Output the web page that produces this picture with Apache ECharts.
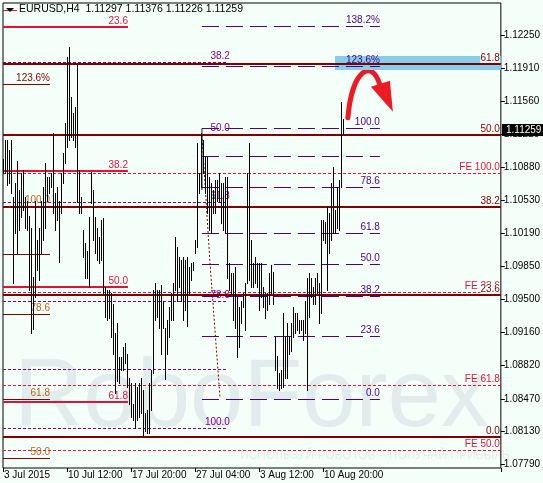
<!DOCTYPE html>
<html><head><meta charset="utf-8">
<script src="https://cdn.jsdelivr.net/npm/echarts@6/dist/echarts.min.js"></script>
<style>html,body{margin:0;padding:0;background:#f5fffa}#c{width:543px;height:483px}</style>
</head><body><div id="c"></div>
<script>
// ---------- data ----------
const symbolName = 'EURUSD,H4';
const headerValues = ['1.11297', '1.11376', '1.11226', '1.11259'];
const lastPrice = 1.11259;

const barHigh = [1.1096,1.1116,1.1116,1.1106,1.1116,1.1057,1.1071,1.1094,1.1064,1.1082,
1.1085,1.1057,1.1053,1.1037,1.1025,1.0974,1.1053,1.1012,1.1025,1.1053,
1.1067,1.1092,1.1077,1.1077,1.1082,1.1123,1.1061,1.1067,1.1053,1.1082,
1.1102,1.1134,1.1202,1.1213,1.1161,1.1144,1.1150,1.1196,1.1085,1.1057,
1.1022,1.1009,1.1001,1.1036,1.1083,1.1064,1.1036,1.1025,1.1015,1.1033,
1.1035,1.0963,1.0960,1.0960,1.0957,1.0946,1.0915,1.0926,1.0890,1.0890,
1.0901,1.0905,1.0894,1.0869,1.0863,1.0842,1.0863,1.0859,1.0863,1.0869,
1.0856,1.0832,1.0835,1.0863,1.0877,1.0960,1.0967,1.0960,1.0960,1.0965,
1.0949,1.0921,1.0929,1.0942,1.0957,1.0967,1.1015,1.1005,1.0994,1.0991,
1.0994,1.0991,1.0994,1.0984,1.0988,1.0989,1.1012,1.1113,1.1082,1.1123,
1.1116,1.1098,1.1098,1.1077,1.1071,1.1064,1.1074,1.1074,1.1082,1.1071,
1.1071,1.1077,1.1077,1.0988,1.0978,1.0978,1.0984,1.0953,1.0942,1.0949,
1.0957,1.0967,1.1082,1.1113,1.1012,1.0988,1.0994,1.0988,1.0988,1.0988,
1.0963,1.0957,1.0957,1.0978,1.0986,1.0979,1.0911,1.0892,1.0874,1.0877,
1.0936,1.0911,1.0926,1.0911,1.0926,1.0942,1.0936,1.0936,1.0929,1.0929,
1.0929,1.0949,1.0973,1.0978,1.0973,1.0963,1.0973,1.0978,1.0967,1.1033,
1.1033,1.1031,1.1046,1.1040,1.1071,1.1088,1.1043,1.1067,1.1074,1.1155,
1.11376];
const barLow = [1.1082,1.1082,1.1069,1.1071,1.1061,1.0967,1.1019,1.0999,1.1022,1.1036,
1.1043,1.1025,1.1022,1.0960,1.0915,1.0920,1.0953,1.0981,1.0970,1.0998,
1.1012,1.1025,1.1053,1.1061,1.1067,1.1040,1.1022,1.1033,1.0989,1.1040,
1.1071,1.1092,1.1109,1.1116,1.1119,1.1116,1.1109,1.1051,1.1040,1.1040,
1.0994,1.0973,1.0973,1.0963,1.1050,1.1012,1.0998,1.0991,1.0988,1.0991,
1.0957,1.0932,1.0929,1.0931,1.0911,1.0894,1.0853,1.0866,1.0863,1.0877,
1.0877,1.0884,1.0859,1.0842,1.0828,1.0825,1.0817,1.0825,1.0828,1.0832,
1.0807,1.0814,1.0811,1.0811,1.0835,1.0874,1.0929,1.0932,1.0921,1.0894,
1.0921,1.0868,1.0894,1.0911,1.0929,1.0929,1.0960,1.0949,1.0963,1.0949,
1.0929,1.0939,1.0923,1.0957,1.0970,1.0981,1.0998,1.1005,1.1061,1.1067,
1.1082,1.1061,1.1040,1.1022,1.1019,1.1040,1.1040,1.1053,1.1053,1.1030,
1.1022,1.1019,1.0973,1.0960,1.0957,1.0929,1.0921,1.0890,1.0901,1.0926,
1.0942,1.0918,1.0967,1.0970,1.0963,1.0963,1.0967,1.0963,1.0939,1.0953,
1.0942,1.0931,1.0939,1.0946,1.0957,1.0946,1.0877,1.0858,1.0856,1.0858,
1.0859,1.0869,1.0869,1.0894,1.0897,1.0911,1.0915,1.0918,1.0915,1.0918,
1.0908,1.0915,1.0856,1.0932,1.0953,1.0946,1.0946,1.0957,1.0926,1.0936,
1.1012,1.1009,1.0960,1.0998,1.1012,1.1019,1.1019,1.1025,1.1022,1.1067,
1.11226];

const slotCount = 249;
const xTickIndex = [0, 32, 64, 96, 128, 160];
const xTickLabels = ['3 Jul 2015', '10 Jul 12:00', '17 Jul 20:00', '27 Jul 04:00', '3 Aug 12:00', '10 Aug 20:00'];
const yTickValues = [1.1225, 1.1191, 1.1156, 1.1122, 1.1088, 1.1053, 1.1019, 1.0985, 1.0950, 1.0916, 1.0882, 1.0847, 1.0813, 1.0779];
const yMin = 1.07751, yMax = 1.12583;

const mainFibLabels = ['61.8', '50.0', '38.2', '23.6', '0.0'];
const mainFibPrices = [1.1195, 1.1121, 1.1046, 1.0955, 1.0807];
const redFibLabels = ['23.6', '38.2', '50.0', '61.8'];
const redFibPrices = [1.1233, 1.1084, 1.0963, 1.0844];
const feLabels = ['FE 100.0', 'FE 23.6', 'FE 61.8', 'FE 50.0'];
const fePrices = [1.1082, 1.0958, 1.0861, 1.0794];
const leftFibLabels = ['123.6%', '', '100.0', '78.6', '61.8', '50.0'];
const leftFibPrices = [1.1174, 1.0997, 1.1047, 1.0935, 1.0847, 1.0785];
const purpleFibLabels = ['38.2', '50.0', '61.8', '78.6', '', '100.0'];
const purpleFibPrices = [1.1197, 1.1122, 1.1052, 1.0949, 1.0878, 1.0817];
const indigoFibLabels = ['138.2%', '123.6%', '100.0', '', '78.6', '61.8', '50.0', '38.2', '23.6', '0.0'];
const indigoFibPrices = [1.1234, 1.1193, 1.1128, 1.1099, 1.1067, 1.1019, 1.0987, 1.0954, 1.0912, 1.0847];
const zonePrices = [1.1189, 1.1203];
const trendIdx = [99, 103, 108];
const trendPrice = [1.1121, 1.0989, 1.0849];
const baseIdx = [99, 99];
const basePrice = [1.1128, 1.1064];

// ---------- styles ----------
const FONTFAM = "'Liberation Sans', Arial, sans-serif";
const FONT = "10px " + FONTFAM;
const BG = '#f5fffa';
const MAROON = '#800000', CRIMSON = '#dc143c', PURPLE = '#800080', INDIGO = '#4b0082', ORANGE = '#b8651e';

function levelSeries(prices, labels, cfg) {
  return {
    type: 'custom', coordinateSystem: 'cartesian2d', silent: true, z: cfg.z || 3,
    data: prices.map(p => [0, p]),
    renderItem(params, api) {
      const cs = params.coordSys;
      const i = params.dataIndex;
      let y = api.coord([0, api.value(1)])[1];
      const x0 = cfg.from == null ? cs.x : api.coord([cfg.from, 0])[0];
      const x1 = cfg.to == null ? cs.x + cs.width : api.coord([cfg.to, 0])[0];
      const lw = cfg.width || 1;
      y = (lw % 2 === 1) ? Math.round(y) + 0.5 : Math.round(y);
      const children = [{
        type: 'line', shape: { x1: x0, y1: y, x2: x1, y2: y },
        style: { stroke: cfg.color, lineWidth: lw, lineDash: cfg.dash || null }
      }];
      const t = labels[i];
      if (t) {
        const lx = (cfg.labelTo == null ? x1 : api.coord([cfg.labelTo, 0])[0]) + (cfg.labelDx || 0);
        children.push({
          type: 'text', z2: 10,
          style: {
            text: t, x: lx, y: y - Math.ceil(lw / 2), align: 'right', verticalAlign: 'bottom',
            fill: (cfg.labelColors && cfg.labelColors[i]) || cfg.labelColor || cfg.color, font: FONT,
            backgroundColor: cfg.labelBg || null
          }
        });
      }
      return { type: 'group', children };
    }
  };
}

const chart = echarts.init(document.getElementById('c'), null, { renderer: 'canvas' });

const option = {
  backgroundColor: BG,
  animation: false,
  grid: { left: 3, right: 42, top: 3, bottom: 15, show: true, borderColor: '#000', borderWidth: 1, backgroundColor: 'transparent' },
  xAxis: {
    type: 'category', data: Array.from({ length: slotCount }, (_, i) => i), boundaryGap: true,
    axisLine: { show: false },
    axisTick: { show: true, interval: (i) => xTickIndex.includes(i), length: 4, lineStyle: { color: '#000' } },
    axisLabel: {
      interval: (i) => xTickIndex.includes(i),
      formatter: (v, i) => { const k = xTickIndex.indexOf(i); return k >= 0 ? xTickLabels[k] : ''; },
      align: 'left', margin: 2, fontSize: 10, color: '#000', fontFamily: FONTFAM, hideOverlap: false
    },
    splitLine: { show: false }
  },
  yAxis: {
    type: 'value', position: 'right', min: yMin, max: yMax, scale: true,
    axisLine: { show: false },
    axisTick: { show: true, customValues: yTickValues, length: 4, lineStyle: { color: '#000' } },
    axisLabel: { customValues: yTickValues, formatter: v => v.toFixed(5), margin: 3, fontSize: 10, color: '#000', fontFamily: FONTFAM },
    splitLine: { show: false }
  },
  series: [
    // blue zone
    {
      type: 'custom', silent: true, z: 1, data: [[0, zonePrices[0], zonePrices[1]]],
      renderItem(params, api) {
        const cs = params.coordSys;
        const a = api.coord([166, api.value(2)]);
        const b = api.coord([166, api.value(1)]);
        return { type: 'rect', shape: { x: Math.round(a[0]) - 1, y: Math.round(a[1]), width: cs.x + cs.width - Math.round(a[0]) + 1, height: Math.round(b[1]) - Math.round(a[1]) }, style: { fill: '#87ceeb' } };
      }
    },
    levelSeries(purpleFibPrices, purpleFibLabels, { to: 112, labelTo: 113, color: PURPLE, dash: [3, 2], z: 2 }),
    levelSeries(fePrices, feLabels, { color: CRIMSON, dash: [3, 2], labelDx: -1, z: 2 }),
    levelSeries(indigoFibPrices, indigoFibLabels, { from: 99, to: 188, color: INDIGO, dash: [17, 7], width: 1, z: 3 }),
    levelSeries(leftFibPrices, leftFibLabels, { to: 23, color: MAROON, labelColor: ORANGE, labelColors: [MAROON], z: 3 }),
    levelSeries(redFibPrices, redFibLabels, { to: 62, color: CRIMSON, width: 2, z: 3 }),
    levelSeries(mainFibPrices, mainFibLabels, { color: MAROON, width: 2, labelDx: -1, labelBg: BG, z: 4 }),
    {
      type: 'line', silent: true, z: 4, symbol: 'none', data: trendIdx.map((x, i) => [x, trendPrice[i]]),
      lineStyle: { color: MAROON, width: 1, type: [2, 2] }
    },
    {
      type: 'line', silent: true, z: 4, symbol: 'none', data: baseIdx.map((x, i) => [x, basePrice[i]]),
      lineStyle: { color: '#222', width: 1 }
    },
    // bars
    {
      type: 'custom', silent: true, z: 5,
      data: barHigh.map((h, i) => [i, h, barLow[i]]),
      renderItem(params, api) {
        const a = api.coord([api.value(0), api.value(1)]);
        const b = api.coord([api.value(0), api.value(2)]);
        const x = Math.round(a[0]) - 0.5;
        return { type: 'line', shape: { x1: x, y1: Math.round(b[1]) + 1, x2: x, y2: Math.round(a[1]) }, style: { stroke: '#000', lineWidth: 1 } };
      }
    }
  ]
};
chart.setOption(option);

// annotations anchored to chart coordinates
const gridRight = chart.getWidth() - 42;
const lastY = chart.convertToPixel({ yAxisIndex: 0 }, lastPrice);
const anchor = chart.convertToPixel({ gridIndex: 0 }, [172, 1.1138]);

chart.setOption({
  graphic: [
    // watermark
    { type: 'text', z: -1, silent: true, left: 14, top: 352,
      style: { text: 'RoboForex', font: "96px " + FONTFAM, fill: '#e1ecec' } },
    { type: 'text', z: -1, silent: true, left: 240, top: 450,
      style: { text: 'ИСПОЛЬЗУЙ РОБОТОВ – ПОЛУЧАЙ ПРИБЫЛЬ', font: "12px " + FONTFAM, fill: '#e4eded' } },
    // header
    { type: 'line', z: 20, shape: { x1: 3, y1: 10.5, x2: 17, y2: 10.5 }, style: { stroke: CRIMSON, lineWidth: 1 } },
    { type: 'polygon', z: 21, shape: { points: [[6, 8], [14, 8], [10, 12]] }, style: { fill: '#000' } },
    { type: 'text', z: 21, left: 19, top: 4,
      style: { text: symbolName + '  ' + headerValues.join(' '), font: "10.5px " + FONTFAM, fill: '#000' } },
    // current price box
    { type: 'rect', z: 30, shape: { x: gridRight + 1, y: Math.round(lastY) - 6, width: 42, height: 12 }, style: { fill: '#000' } },
    { type: 'text', z: 31, style: { text: lastPrice.toFixed(5), x: gridRight + 5, y: Math.round(lastY), verticalAlign: 'middle', font: FONT, fill: '#fff' } },
    // red curved arrow
    { type: 'group', z: 25, x: anchor[0], y: anchor[1], children: [
      { type: 'bezierCurve', shape: { x1: 0, y1: -1, cpx1: 4, cpy1: -49, cpx2: 24, cpy2: -61, x2: 32, y2: -34 },
        style: { stroke: '#ed1c24', lineWidth: 5, fill: null, lineCap: 'round' } },
      { type: 'polygon', shape: { points: [[23, -32], [42, -38], [45, -7]] }, style: { fill: '#ed1c24' } }
    ] }
  ]
});
</script>
</body></html>
